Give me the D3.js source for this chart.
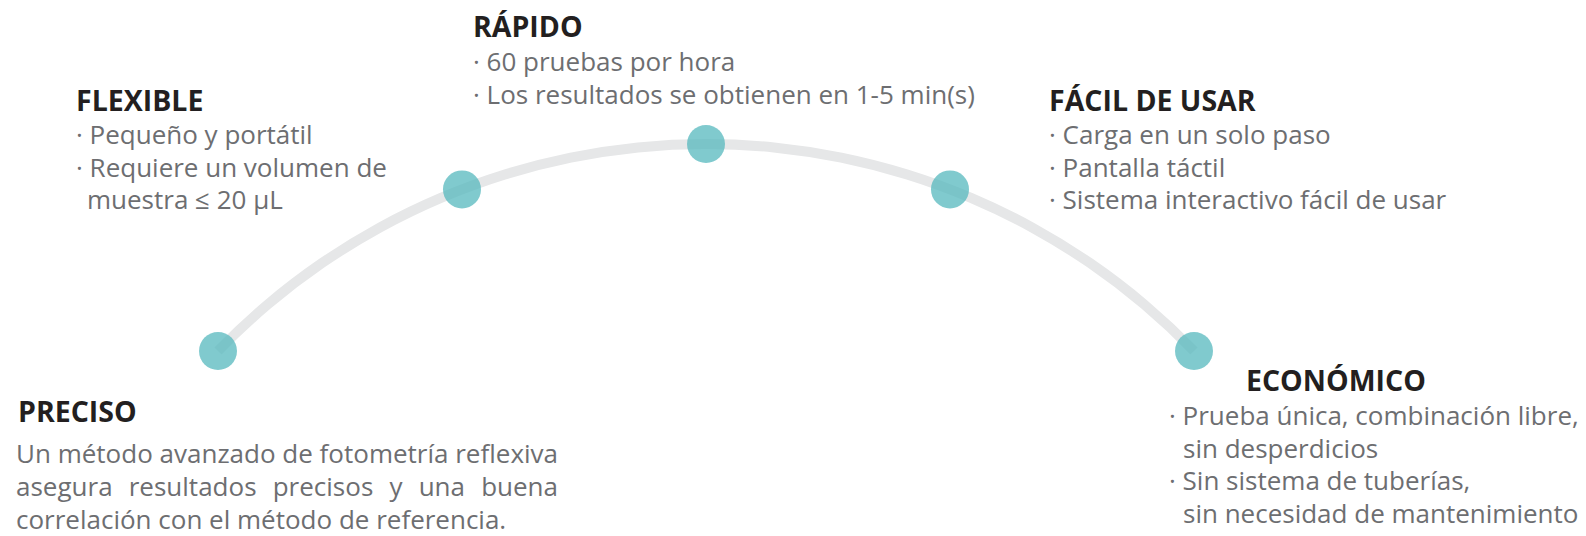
<!DOCTYPE html>
<html>
<head>
<meta charset="utf-8">
<script src="https://cdn.jsdelivr.net/npm/d3@7"></script>
<style>
  html, body { margin: 0; padding: 0; background: #fff; }
  svg { display: block; }
  .title { font-family: "Open Sans", sans-serif; font-weight: 700; fill: #231f20; }
  .body { font-family: "Open Sans", sans-serif; fill: #6d6e71; }
</style>
</head>
<body>
<div id="chart"></div>
<script>
var w = 1586, h = 536;

// feature names along the arc, left to right
var features = ["PRECISO", "FLEXIBLE", "RÁPIDO", "FÁCIL DE USAR", "ECONÓMICO"];

// text lines under each title (lines without a leading dot are continuations)
var precisoLines = [
  "Un método avanzado de fotometría reflexiva",
  "asegura resultados precisos y una buena",
  "correlación con el método de referencia."
];
var flexibleLines = [
  "· Pequeño y portátil",
  "· Requiere un volumen de",
  "muestra ≤ 20 µL"
];
var rapidoLines = [
  "· 60 pruebas por hora",
  "· Los resultados se obtienen en 1-5 min(s)"
];
var facilLines = [
  "· Carga en un solo paso",
  "· Pantalla táctil",
  "· Sistema interactivo fácil de usar"
];
var economicoLines = [
  "· Prueba única, combinación libre,",
  "sin desperdicios",
  "· Sin sistema de tuberías,",
  "sin necesidad de mantenimiento"
];
var featureLines = [precisoLines, flexibleLines, rapidoLines, facilLines, economicoLines];

// where each text block sits
var layout = [
  {tx: 18,   ty: 422, bx: 16,   by: 463, indent: 0,  gap: 33,   justify: 542},
  {tx: 76,   ty: 111, bx: 76,   by: 144, indent: 11, gap: 32.6},
  {tx: 473,  ty: 37,  bx: 473,  by: 71,  indent: 11, gap: 32.6},
  {tx: 1049, ty: 111, bx: 1049, by: 144, indent: 11, gap: 32.6},
  {tx: 1246, ty: 391, bx: 1169, by: 425, indent: 14, gap: 32.6}
];

var svg = d3.select("#chart")
  .append("svg")
    .attr("width", w)
    .attr("height", h);

// arc geometry: a circle through both end points and the top
var cx = 706, R = 678.7, cy = 144 + R, arcW = 10;

var x = d3.scalePoint()
    .domain(features)
    .range([218, 1194]);

function yOnArc(px) {
  return cy - Math.sqrt(R * R - (px - cx) * (px - cx));
}
function angleOf(px) {
  return Math.asin((px - cx) / R);
}

var arc = d3.arc()
    .innerRadius(R - arcW / 2)
    .outerRadius(R + arcW / 2)
    .startAngle(angleOf(x(features[0])))
    .endAngle(angleOf(x(features[features.length - 1])));

svg.append("path")
    .attr("transform", "translate(" + cx + "," + cy + ")")
    .attr("fill", "#e6e7e8")
    .attr("d", arc());

svg.selectAll(".dot")
  .data(features)
  .enter().append("circle")
    .attr("class", "dot")
    .attr("cx", function(d) { return x(d); })
    .attr("cy", function(d) { return yOnArc(x(d)); })
    .attr("r", 19)
    .attr("fill", "#55b8bd")
    .attr("fill-opacity", 0.75);

// titles and text
features.forEach(function(name, i) {
  var L = layout[i];
  svg.append("text")
      .attr("class", "title")
      .attr("x", L.tx)
      .attr("y", L.ty)
      .style("font-size", "28.5px")
      .text(name);

  var lines = featureLines[i];
  var block = svg.append("text")
      .attr("class", "body")
      .style("font-size", "26px");

  lines.forEach(function(line, j) {
    var cont = line.charAt(0) !== "·";
    var t = block.append("tspan")
        .attr("x", L.bx + (cont && j > 0 ? L.indent : 0))
        .attr("y", L.by + j * L.gap)
        .text(line);
    // justified paragraph: stretch word gaps except on the last line
    if (L.justify && j < lines.length - 1) {
      var gaps = line.split(" ").length - 1;
      var extra = L.justify - t.node().getComputedTextLength();
      t.attr("word-spacing", extra / gaps);
    }
  });
});
</script>
</body>
</html>
